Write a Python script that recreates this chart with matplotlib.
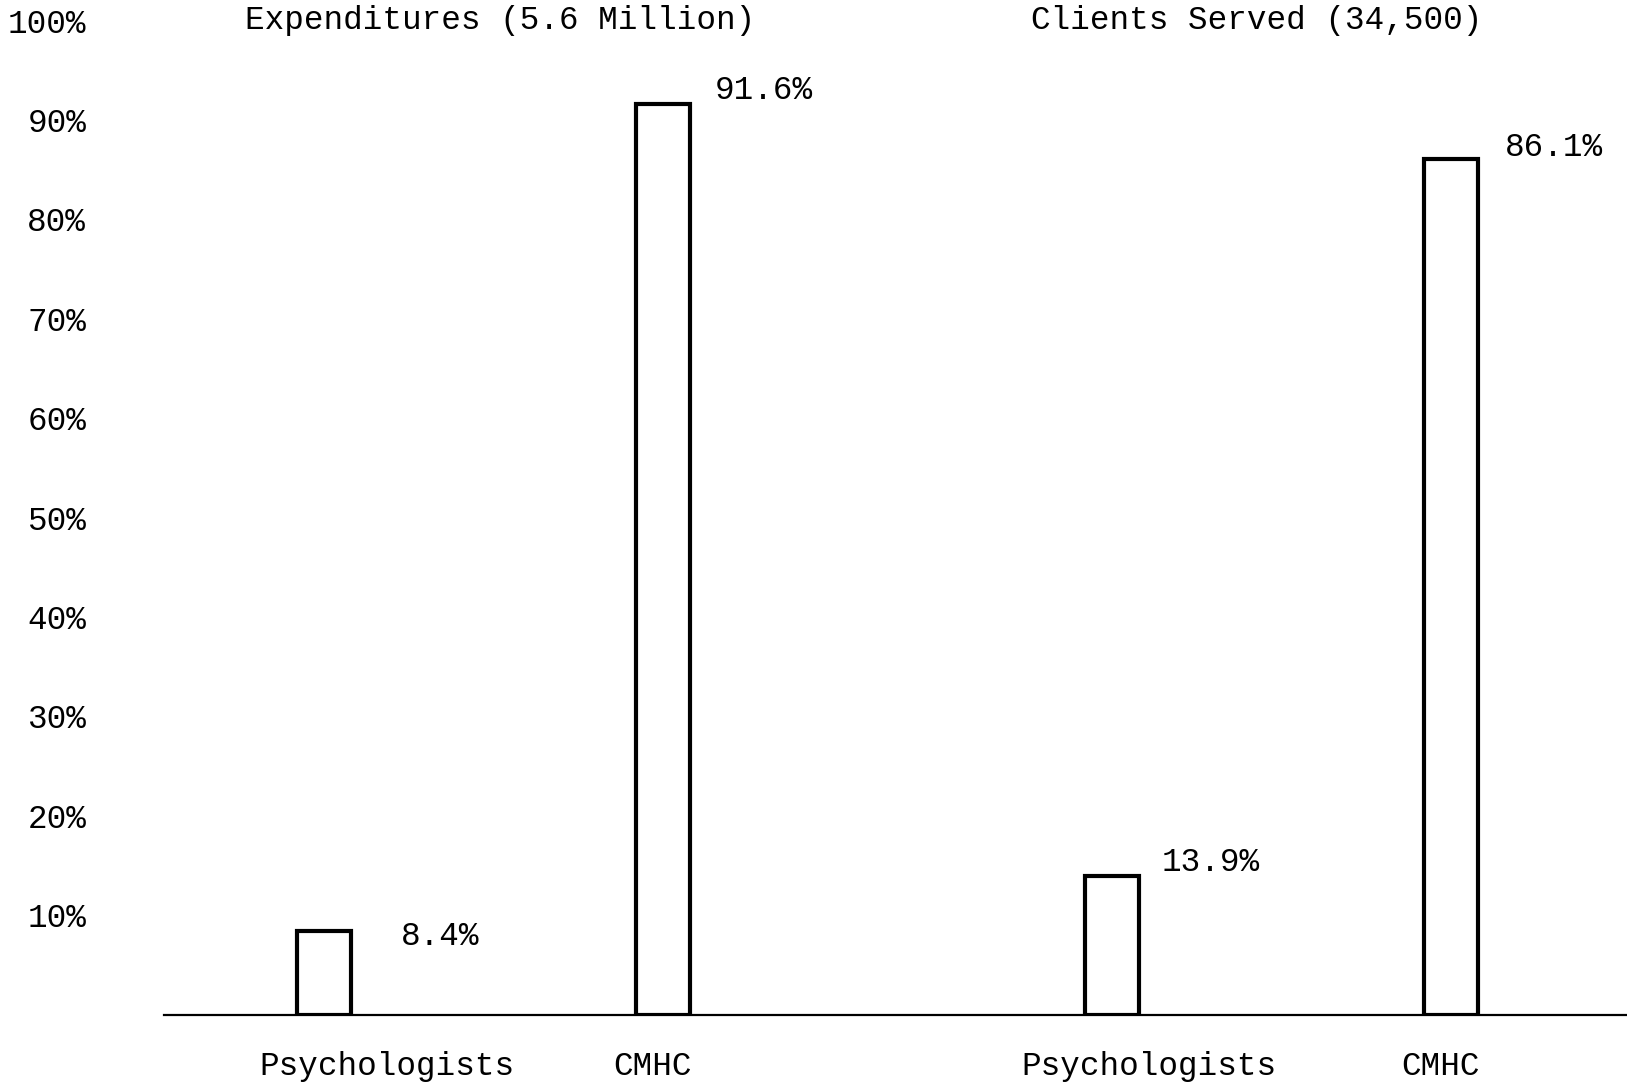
import numpy as np
import matplotlib.pyplot as plt

# values
groups = ['Expenditures (5.6 Million)', 'Clients Served (34,500)']
categories = ['Psychologists', 'CMHC']
expenditures = [8.4, 91.6]
clients = [13.9, 86.1]
value_labels = ['8.4%', '91.6%', '13.9%', '86.1%']
y_ticks = [10, 20, 30, 40, 50, 60, 70, 80, 90, 100]
y_tick_labels = ['10%', '20%', '30%', '40%', '50%', '60%', '70%', '80%', '90%', '100%']

plt.rcParams['font.family'] = ['Liberation Mono', 'DejaVu Sans Mono']
fs = 23.5

fig = plt.figure(figsize=(16.27, 10.84), dpi=100)
ax = fig.add_axes([0.1008, 0.064, 0.8992, 0.917])

group_centers = np.array([3.175, 10.77])
offsets = np.array([-1.63, 1.63])
width = 0.52

xs = np.concatenate([group_centers[0] + offsets, group_centers[1] + offsets])
vals = expenditures + clients

ax.bar(xs, vals, width=width, facecolor='white', edgecolor='black',
       linewidth=3, zorder=2)

# the typist did not line labels up exactly, so nudge each one a bit
val_dx = [36, 18, 16, 20]
val_dy = [-4, 10, 10, 8]
for x, v, lab, dx, dy in zip(xs, vals, value_labels, val_dx, val_dy):
    ax.annotate(lab, xy=(x + width / 2, v), xytext=(dx, dy),
                textcoords='offset points', ha='left', va='center', fontsize=fs)

cat_dx = [45, -7, 26, -7]
for i, x in enumerate(xs):
    ax.annotate(categories[i % 2], xy=(x, 0), xytext=(cat_dx[i], -37),
                textcoords='offset points', ha='center', va='center',
                fontsize=fs, annotation_clip=False)

title_dx = [5, -18]
for gc, title, dx in zip(group_centers, groups, title_dx):
    ax.annotate(title, xy=(gc, 100), xytext=(dx, 0), textcoords='offset points',
                ha='center', va='center', fontsize=fs, annotation_clip=False)

ax.set_xlim(0, 14.1)
ax.set_ylim(0, 100)
ax.set_xticks([])
ax.set_yticks(y_ticks)
ax.set_yticklabels(y_tick_labels, fontsize=fs)
ax.tick_params(axis='y', length=0, pad=56)

for side in ['top', 'right', 'left']:
    ax.spines[side].set_visible(False)
ax.spines['bottom'].set_linewidth(1.6)
ax.spines['bottom'].set_zorder(3)

fig.savefig('out.png', dpi=100)
